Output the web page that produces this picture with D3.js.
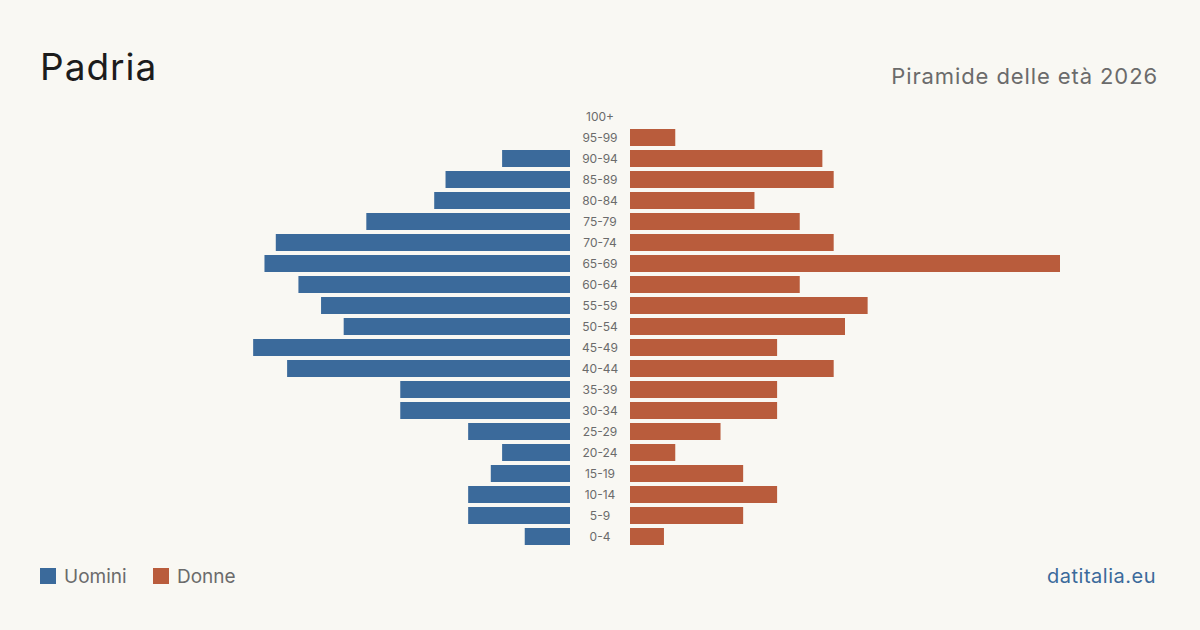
<!DOCTYPE html>
<html>
<head>
<meta charset="utf-8">
<style>
    body { margin: 0; background: #f9f8f3; }
    svg { display: block; }
</style>
<script src="https://d3js.org/d3.v7.min.js"></script>
</head>
<body>
<div id="chart"></div>
<script>
    // age classes, top to bottom
    var ageGroups = ["100+", "95-99", "90-94", "85-89", "80-84", "75-79", "70-74", "65-69", "60-64",
        "55-59", "50-54", "45-49", "40-44", "35-39", "30-34", "25-29", "20-24", "15-19", "10-14", "5-9", "0-4"];
    var uomini = [0, 0, 6, 11, 12, 18, 26, 27, 24, 22, 20, 28, 25, 15, 15, 9, 6, 7, 9, 9, 4];
    var donne = [0, 4, 17, 18, 11, 15, 18, 38, 15, 21, 19, 13, 18, 13, 13, 8, 4, 10, 13, 10, 3];

    var width = 1200, height = 630;
    var blue = "#3b6a9b", red = "#b95c3c";
    var font = "Inter, 'Noto Sans', sans-serif";

    var svg = d3.select("#chart").append("svg")
        .attr("width", width)
        .attr("height", height)
        .style("background", "#f9f8f3");

    var y = d3.scaleBand()
        .domain(ageGroups)
        .range([106, 547])
        .paddingInner(4 / 21)
        .paddingOuter(2 / 21);

    var x = d3.scaleLinear()
        .domain([0, d3.max(donne.concat(uomini))])
        .range([0, 430]);

    var leftEdge = 570, rightEdge = 630, mid = 600;

    var rows = ageGroups.map(function (g, i) { return { age: g, m: uomini[i], f: donne[i] }; });

    // men, growing to the left
    svg.append("g").selectAll("rect")
        .data(rows.filter(function (d) { return d.m > 0; }))
        .enter().append("rect")
        .attr("x", function (d) { return leftEdge - x(d.m); })
        .attr("y", function (d) { return y(d.age); })
        .attr("width", function (d) { return x(d.m); })
        .attr("height", y.bandwidth())
        .attr("fill", blue);

    // women, growing to the right
    svg.append("g").selectAll("rect")
        .data(rows.filter(function (d) { return d.f > 0; }))
        .enter().append("rect")
        .attr("x", rightEdge)
        .attr("y", function (d) { return y(d.age); })
        .attr("width", function (d) { return x(d.f); })
        .attr("height", y.bandwidth())
        .attr("fill", red);

    // age labels in the middle
    svg.append("g").selectAll("text")
        .data(rows)
        .enter().append("text")
        .attr("x", mid)
        .attr("y", function (d) { return y(d.age) + y.bandwidth() / 2; })
        .attr("dy", "0.35em")
        .attr("text-anchor", "middle")
        .style("font-family", font)
        .style("font-size", "12px")
        .style("fill", "#6b6b6b")
        .text(function (d) { return d.age; });

    // title and subtitle
    svg.append("text")
        .attr("x", 40).attr("y", 80)
        .style("font-family", font)
        .style("font-size", "37px")
        .style("letter-spacing", "1px")
        .style("fill", "#1c1c1c")
        .text("Padria");

    svg.append("text")
        .attr("x", 1158).attr("y", 84)
        .attr("text-anchor", "end")
        .style("font-family", font)
        .style("font-size", "22px")
        .style("letter-spacing", "0.9px")
        .style("fill", "#6b6b6b")
        .text("Piramide delle età 2026");

    // legend
    var legend = [{ name: "Uomini", color: blue, x: 40 }, { name: "Donne", color: red, x: 153 }];
    var lg = svg.append("g").selectAll("g")
        .data(legend)
        .enter().append("g")
        .attr("transform", function (d) { return "translate(" + d.x + ",568)"; });
    lg.append("rect").attr("width", 16).attr("height", 16).attr("fill", function (d) { return d.color; });
    lg.append("text")
        .attr("x", 24).attr("y", 8).attr("dy", "0.35em")
        .style("font-family", font)
        .style("font-size", "19px")
        .style("fill", "#6b6b6b")
        .text(function (d) { return d.name; });

    svg.append("text")
        .attr("x", 1156).attr("y", 583)
        .attr("text-anchor", "end")
        .style("font-family", font)
        .style("font-size", "20px")
        .style("letter-spacing", "0.5px")
        .style("fill", blue)
        .text("datitalia.eu");
</script>
</body>
</html>
